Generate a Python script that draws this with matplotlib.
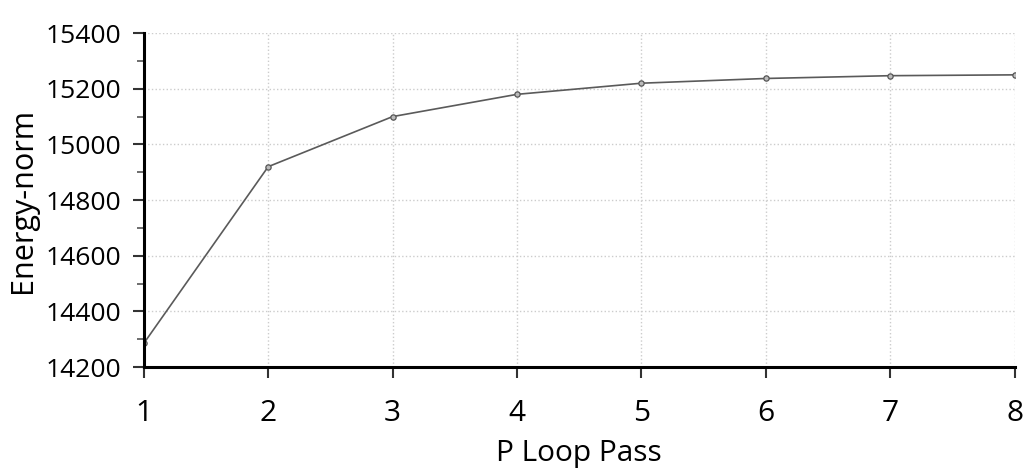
import matplotlib
matplotlib.use("Agg")
import matplotlib.pyplot as plt
from matplotlib.ticker import MultipleLocator

passes = [1, 2, 3, 4, 5, 6, 7, 8]
energy_norm = [14285, 14920, 15100, 15180, 15220, 15237, 15247, 15250]
x_label = "P Loop Pass"
y_label = "Energy-norm"

plt.rcParams['font.family'] = ['Open Sans', 'DejaVu Sans']

fig = plt.figure(figsize=(10.27, 4.73), dpi=100)
ax = fig.add_axes([0.140, 0.224, 0.848, 0.706])

ax.plot(passes, energy_norm, color='#5a5a5a', linewidth=1.2, marker='o',
        markersize=3.8, markerfacecolor='#bbbbbb', markeredgecolor='#555555',
        markeredgewidth=0.9)

ax.set_xlim(1, 8)
ax.set_ylim(14200, 15400)
ax.xaxis.set_major_locator(MultipleLocator(1))
ax.yaxis.set_major_locator(MultipleLocator(200))
ax.yaxis.set_minor_locator(MultipleLocator(100))

ax.grid(True, which='major', color='#cccccc', linestyle=':', linewidth=1.0)
ax.set_axisbelow(True)

for s in ['top', 'right']:
    ax.spines[s].set_visible(False)
for s in ['left', 'bottom']:
    ax.spines[s].set_linewidth(2.2)
    ax.spines[s].set_color('black')

ax.tick_params(axis='both', which='major', direction='out', length=8, width=1.5,
               color='#333333')
ax.tick_params(axis='y', which='major', pad=8, labelsize=19)
ax.tick_params(axis='y', which='minor', direction='out', length=5, width=1.2, color='#555555')
ax.tick_params(axis='x', which='major', pad=15, labelsize=21.5)

ax.set_xlabel(x_label, fontsize=21.5, labelpad=8)
ax.set_ylabel(y_label, fontsize=22, labelpad=6)

fig.savefig("out.png", dpi=100)
